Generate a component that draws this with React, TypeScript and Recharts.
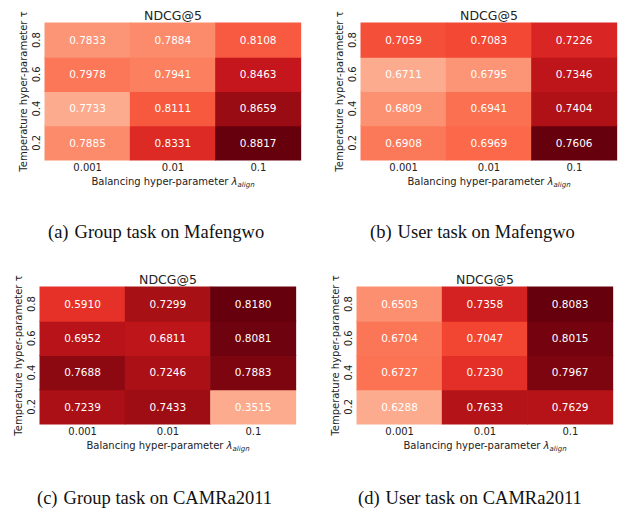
import { BarChart, Bar, Cell, XAxis, YAxis, LabelList } from 'recharts'

const LAMBDAS = ['0.001', '0.01', '0.1']
// rows go bottom to top: tau 0.2 first
const TAUS = ['0.2', '0.4', '0.6', '0.8']

const groupMafengwo = [
  [0.7885, 0.8331, 0.8817],
  [0.7733, 0.8111, 0.8659],
  [0.7978, 0.7941, 0.8463],
  [0.7833, 0.7884, 0.8108],
]
const userMafengwo = [
  [0.6908, 0.6969, 0.7606],
  [0.6809, 0.6941, 0.7404],
  [0.6711, 0.6795, 0.7346],
  [0.7059, 0.7083, 0.7226],
]
const groupCamra = [
  [0.7239, 0.7433, 0.3515],
  [0.7688, 0.7246, 0.7883],
  [0.6952, 0.6811, 0.8081],
  [0.5910, 0.7299, 0.8180],
]
const userCamra = [
  [0.6288, 0.7633, 0.7629],
  [0.6727, 0.7230, 0.7967],
  [0.6704, 0.7047, 0.8015],
  [0.6503, 0.7358, 0.8083],
]

// matplotlib "Reds"
const REDS = ['#fff5f0', '#fee0d2', '#fcbba1', '#fc9272', '#fb6a4a', '#ef3b2c', '#cb181d', '#a50f15', '#67000d']

function hex(c: string) {
  return [1, 3, 5].map(i => parseInt(c.slice(i, i + 2), 16))
}

function reds(t: number) {
  const p = Math.max(0, Math.min(1, t)) * (REDS.length - 1)
  const i = Math.min(REDS.length - 2, Math.floor(p))
  const f = p - i
  const a = hex(REDS[i]), b = hex(REDS[i + 1])
  const c = a.map((v, k) => Math.round(v + (b[k] - v) * f))
  return `rgb(${c[0]},${c[1]},${c[2]})`
}

const FONT = "'DejaVu Sans', sans-serif"

function XTick({ x, y, payload }: any) {
  return (
    <text x={x} y={y + 9} textAnchor="middle" fontSize={10} fill="#222" style={{ fontFamily: FONT }}>
      {payload.value}
    </text>
  )
}

function YTick({ x, y, payload }: any) {
  const tx = x - 7
  return (
    <text x={tx} y={y} dy="0.35em" textAnchor="middle" fontSize={10} fill="#222"
      transform={`rotate(-90 ${tx} ${y})`} style={{ fontFamily: FONT }}>
      {TAUS[Math.floor(payload.value)]}
    </text>
  )
}

// heatmap cell: bar rect, widened a hair so neighbours meet without a seam
function HeatCell({ x, y, width, height, fill }: any) {
  return <rect x={x - 0.5} y={y - 0.5} width={width + 1} height={height + 1} fill={fill} stroke="none" />
}

function Heatmap({ values, left, top }: { values: number[][]; left: number; top: number }) {
  const flat = values.flat()
  const min = Math.min(...flat)
  const max = Math.max(...flat)
  const color = (v: number) => reds(0.3 + 0.7 * (v - min) / (max - min))

  const data = LAMBDAS.map((lam, c) => {
    const row: Record<string, unknown> = { lam }
    TAUS.forEach((_, r) => {
      row[`r${r}`] = 1
      row[`v${r}`] = values[r][c]
    })
    return row
  })

  return (
    <div style={{ position: 'absolute', left, top }}>
      <BarChart width={315} height={200} data={data} margin={{ top: 23, right: 14, bottom: 10, left: 15 }}
        barCategoryGap={0} barGap={0}>
        <XAxis dataKey="lam" height={30} axisLine={false} tickLine={false} tickSize={0} tick={XTick} interval={0} />
        <YAxis type="number" domain={[0, 4]} ticks={[0.5, 1.5, 2.5, 3.5]} width={30}
          axisLine={false} tickLine={false} tickSize={0} tick={YTick} />
        {TAUS.map((tau, r) => (
          <Bar key={tau} dataKey={`r${r}`} stackId="h" isAnimationActive={false} shape={HeatCell}>
            {LAMBDAS.map((_, c) => <Cell key={c} fill={color(values[r][c])} />)}
            <LabelList dataKey={`v${r}`} position="center" fill="#fff" fontSize={10.5}
              style={{ fontFamily: FONT }} formatter={(v: any) => Number(v).toFixed(4)} />
          </Bar>
        ))}
        <text x={173} y={20} textAnchor="middle" fontSize={12.5} fill="#222" style={{ fontFamily: FONT }}>NDCG@5</text>
        <text x={23} y={91.5} dy="0.35em" textAnchor="middle" fontSize={10} fill="#222"
          transform="rotate(-90 23 91.5)" style={{ fontFamily: FONT }}>
          Temperature hyper-parameter τ
        </text>
        <text x={173} y={184.5} textAnchor="middle" fontSize={10} fill="#222" style={{ fontFamily: FONT }}>
          <tspan>Balancing hyper-parameter </tspan>
          <tspan fontStyle="italic">λ</tspan>
          <tspan fontStyle="italic" fontSize={7} dy={2}>align</tspan>
        </text>
      </BarChart>
    </div>
  )
}

function Caption({ tag, text, left, top }: { tag: string; text: string; left: number; top: number }) {
  return (
    <div style={{
      position: 'absolute', left, top, fontFamily: "'Liberation Serif', serif",
      fontSize: 18.5, lineHeight: '20px', color: '#111', whiteSpace: 'nowrap',
    }}>
      <span style={{ marginRight: 6 }}>{tag}</span>{text}
    </div>
  )
}

export default function App() {
  return (
    <div style={{ position: 'absolute', left: 0, top: 0, width: 631, height: 514, background: '#fff', overflow: 'hidden' }}>
      <Heatmap values={groupMafengwo} left={0} top={0} />
      <Heatmap values={userMafengwo} left={316} top={0} />
      <Heatmap values={groupCamra} left={-5} top={264} />
      <Heatmap values={userCamra} left={312} top={264} />
      <Caption tag="(a)" text="Group task on Mafengwo" left={48} top={222} />
      <Caption tag="(b)" text="User task on Mafengwo" left={370} top={222} />
      <Caption tag="(c)" text="Group task on CAMRa2011" left={37} top={488} />
      <Caption tag="(d)" text="User task on CAMRa2011" left={358} top={488} />
    </div>
  )
}
